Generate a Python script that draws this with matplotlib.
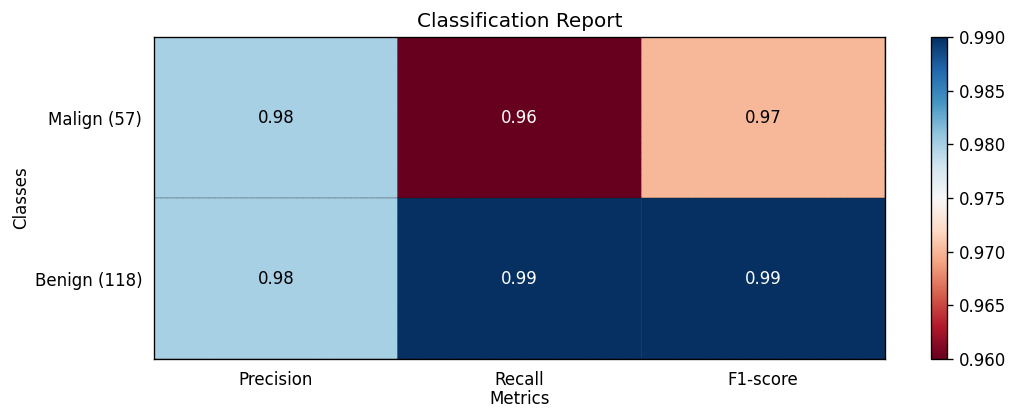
import numpy as np
from matplotlib import pyplot as plt

classes = ['Malign (57)', 'Benign (118)']
metrics = ['Precision', 'Recall', 'F1-score']
precision = [0.98, 0.98]
recall = [0.96, 0.99]
f1_score = [0.97, 0.99]

scores = np.array([precision, recall, f1_score]).T


def show_values(pc, data, fmt="%.2f"):
    # write each cell's value, white on dark cells and black on light ones
    ax = pc.axes
    for i in range(data.shape[0]):
        for j in range(data.shape[1]):
            value = data[i, j]
            rgba = pc.to_rgba(value)
            if np.all(np.array(rgba[:3]) > 0.5):
                color = (0.0, 0.0, 0.0)
            else:
                color = (1.0, 1.0, 1.0)
            ax.text(j + 0.5, i + 0.5, fmt % value, ha='center', va='center',
                    color=color, fontsize=10)


fig = plt.figure(figsize=(1011 / 120, 409 / 120), dpi=120)
ax = fig.add_axes([0.1523, 0.1222, 0.7230, 0.7873])
cax = fig.add_axes([0.9209, 0.1222, 0.0158, 0.7873])

c = ax.pcolor(scores, edgecolors='k', linestyle='dashed', linewidths=0.2,
              cmap='RdBu', vmin=0.96, vmax=0.99)

ax.set_yticks(np.arange(scores.shape[0]) + 0.5)
ax.set_xticks(np.arange(scores.shape[1]) + 0.5)
ax.set_xticklabels(metrics)
ax.set_yticklabels(classes)
ax.tick_params(length=0, labelsize=10)
ax.tick_params(axis='x', pad=7)
ax.tick_params(axis='y', pad=7)
ax.set_xlim(0, scores.shape[1])
ax.set_ylim(0, scores.shape[0])
ax.invert_yaxis()

ax.set_title('Classification Report', fontsize=12, pad=6)
ax.set_xlabel('Metrics', fontsize=10, labelpad=1)
ax.set_ylabel('Classes', fontsize=10, labelpad=3)

cb = fig.colorbar(c, cax=cax)
cb.set_ticks([0.96, 0.965, 0.97, 0.975, 0.98, 0.985, 0.99])
cb.ax.yaxis.set_major_formatter(plt.FormatStrFormatter('%.3f'))
cb.ax.tick_params(labelsize=10)

show_values(c, scores)

fig.savefig('out.png', dpi=120)
